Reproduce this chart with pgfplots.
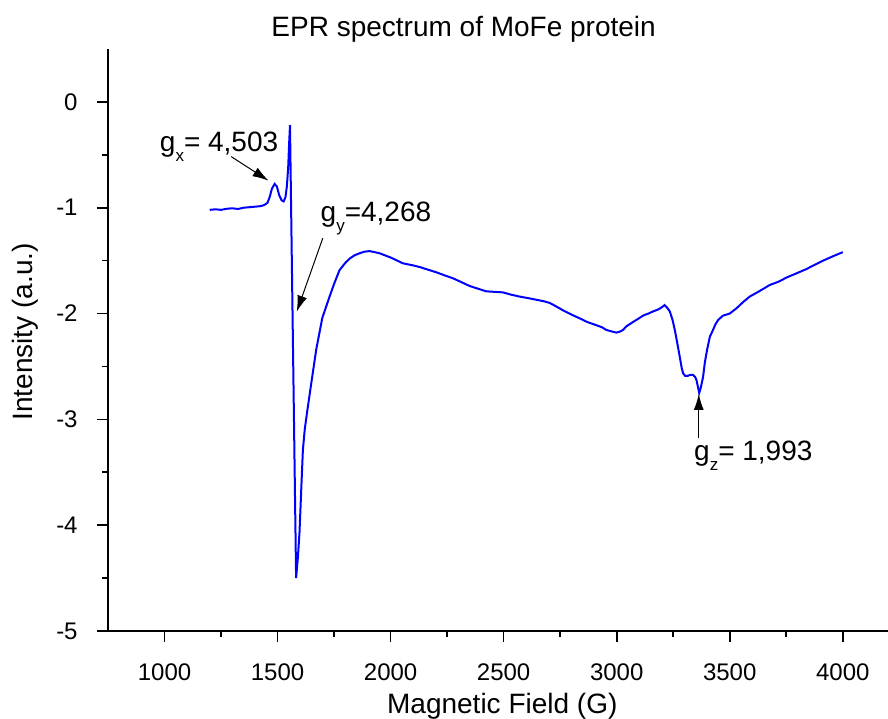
\documentclass[border=0pt]{standalone}
\usepackage{fontspec}
\setmainfont{Liberation Sans}
\usepackage{pgfplots}
\pgfplotsset{compat=1.18}
\usetikzlibrary{arrows.meta}
\newcommand{\sub}[1]{\raisebox{-5pt}{\fontsize{8.5}{8.5}\selectfont #1}}
\begin{document}
\begin{tikzpicture}
\useasboundingbox (-54pt,-43.5pt) rectangle (390pt,315.5pt);
\begin{axis}[
  at={(0,0)}, anchor=south west,
  scale only axis, width=390pt, height=291pt,
  xmin=750, xmax=4200, ymin=-5, ymax=0.5,
  axis lines*=left,
  axis line style={line width=0.8pt},
  xtick={1000,1500,2000,2500,3000,3500,4000},
  xticklabels={1000,1500,2000,2500,3000,3500,4000},
  ytick={-5,-4,-3,-2,-1,0},
  yticklabels={-5,-4,-3,-2,-1,0},
  minor x tick num=1, minor y tick num=1,
  tick align=outside,
  major tick length=5.5pt, minor tick length=2.8pt,
  every tick/.style={line width=0.8pt, black},
  tick label style={font=\fontsize{12}{14}\selectfont},
  yticklabel style={anchor=east, inner sep=0pt, xshift=-9.5pt},
  xticklabel style={anchor=north, inner sep=0pt, yshift=-10.5pt},
  clip=false,
]
\addplot[blue, line width=1pt] coordinates {
(1200,-1.02) (1225,-1.015) (1250,-1.02) (1275,-1.01) (1300,-1.005) (1325,-1.012)
(1350,-1.0) (1375,-0.995) (1400,-0.99) (1425,-0.985) (1440,-0.975) (1455,-0.955)
(1465,-0.90) (1475,-0.82) (1487,-0.775) (1497,-0.80) (1507,-0.88) (1518,-0.93)
(1527,-0.94) (1535,-0.90) (1541,-0.80) (1547,-0.62) (1551,-0.40) (1555,-0.22)
(1582,-4.50) (1590,-4.30) (1597,-4.07) (1605,-3.65) (1612,-3.29) (1620,-3.10)
(1630,-2.94) (1649,-2.66) (1671,-2.34) (1698,-2.04) (1730,-1.84) (1750,-1.72)
(1774,-1.59) (1800,-1.52) (1819,-1.48) (1840,-1.45) (1863,-1.43) (1885,-1.415)
(1907,-1.41) (1930,-1.42) (1951,-1.43) (1981,-1.455) (2000,-1.47) (2054,-1.525)
(2100,-1.545) (2128,-1.56) (2165,-1.585) (2202,-1.61) (2240,-1.64) (2276,-1.667)
(2310,-1.70) (2350,-1.74) (2379,-1.76) (2423,-1.79) (2460,-1.795) (2497,-1.80)
(2530,-1.82) (2571,-1.84) (2610,-1.855) (2645,-1.87) (2680,-1.885) (2704,-1.90)
(2730,-1.93) (2763,-1.97) (2800,-2.01) (2836,-2.045) (2870,-2.08) (2910,-2.11)
(2935,-2.13) (2954,-2.155) (2980,-2.17) (2999,-2.18) (3015,-2.17) (3028,-2.155)
(3043,-2.12) (3058,-2.10) (3072,-2.08) (3095,-2.05) (3116,-2.02) (3140,-2.00)
(3161,-1.98) (3185,-1.96) (3200,-1.94) (3212,-1.92) (3225,-1.95) (3235,-1.98)
(3247,-2.06) (3257,-2.155) (3268,-2.28) (3279,-2.41) (3288,-2.52) (3294,-2.565)
(3303,-2.59) (3312,-2.59) (3325,-2.58) (3338,-2.58) (3347,-2.60) (3353,-2.63)
(3360,-2.70) (3365,-2.75) (3372,-2.70) (3382,-2.60) (3390,-2.46) (3400,-2.34)
(3412,-2.22) (3426,-2.155) (3437,-2.10) (3449,-2.06) (3470,-2.02) (3500,-2.00)
(3530,-1.95) (3560,-1.89) (3588,-1.84) (3630,-1.79) (3677,-1.73) (3715,-1.70)
(3751,-1.66) (3795,-1.62) (3839,-1.58) (3875,-1.54) (3913,-1.50) (3955,-1.46)
(3994,-1.425) (4000,-1.42)
};
% title and axis labels
\node[anchor=base, inner sep=0pt, font=\fontsize{14}{16}\selectfont] at (axis cs:2323,0.617) {EPR spectrum of MoFe protein};
\node[anchor=base, inner sep=0pt, font=\fontsize{14}{16}\selectfont] at (axis cs:2494,-5.775) {Magnetic Field (G)};
\node[anchor=base, inner sep=0pt, rotate=90, font=\fontsize{14}{16}\selectfont] at (axis cs:414,-2.174) {Intensity (a.u.)};
% annotations
\node[anchor=base west, inner sep=0pt, font=\fontsize{14}{16}\selectfont] at (axis cs:978,-0.473) {g\sub{x}= 4,503};
\node[anchor=base west, inner sep=0pt, font=\fontsize{14}{16}\selectfont] at (axis cs:1689,-1.131) {g\sub{y}=4,268};
\node[anchor=base west, inner sep=0pt, font=\fontsize{14}{16}\selectfont] at (axis cs:3341,-3.39) {g\sub{z}= 1,993};
\draw[line width=0.5pt, -{Latex[length=8pt,width=5pt]}] (axis cs:1295,-0.517) -- (axis cs:1460,-0.744);
\draw[line width=0.5pt, -{Latex[length=8pt,width=5pt]}] (axis cs:1700,-1.288) -- (axis cs:1585,-1.982);
\draw[line width=0.5pt, -{Latex[length=8pt,width=5pt]}] (axis cs:3363,-3.18) -- (axis cs:3363,-2.76);
\end{axis}
\end{tikzpicture}
\end{document}
